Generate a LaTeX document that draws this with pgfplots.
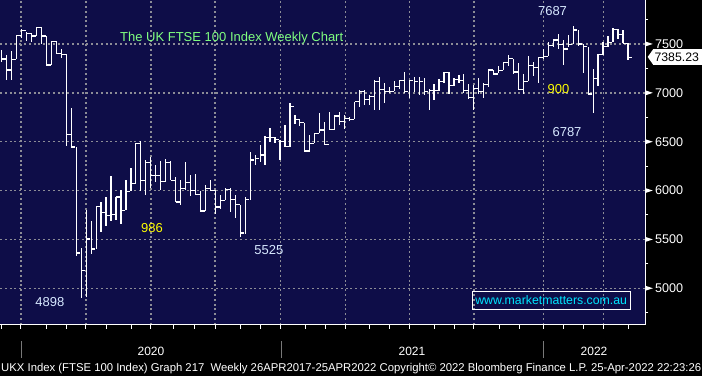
\documentclass[border=0pt]{standalone}
\usepackage{pgfplots}
\usepackage{pgfplotstable}
\usepackage{graphicx}
\pgfplotsset{compat=1.18}
\usepackage{fontspec}
\setmainfont{Liberation Sans}
\definecolor{navy}{RGB}{14,13,72}
\definecolor{gridgray}{RGB}{140,140,150}
\definecolor{titlegreen}{RGB}{128,255,128}
\definecolor{lblue}{RGB}{215,232,255}
\definecolor{webcyan}{RGB}{0,230,255}
\definecolor{yel}{RGB}{255,255,0}
\definecolor{sepgray}{RGB}{120,120,120}

\pgfplotstableread{
k h l c
0 7438 7318 7346
1 7387 7130 7233
2 7428 7130 7342
3 7592 7342 7585
4 7650 7558 7637
5 7626 7534 7609
6 7616 7524 7582
7 7678 7582 7671
8 7671 7500 7582
9 7582 7284 7284
10 7524 7284 7524
11 7534 7404 7404
12 7445 7353 7394
13 7394 6453 6572
14 6849 6440 6446
15 6446 5334 5361
16 5412 4899 5180
17 5802 4913 5505
18 5693 5351 5402
19 5837 5402 5837
20 5881 5573 5779
21 5933 5642 5744
22 6145 5693 5755
23 5933 5700 5933
24 6008 5656 5796
25 6104 5796 5991
26 6226 5996 6072
27 6483 6072 6483
28 6507 5996 6106
29 6312 5952 6288
30 6346 6021 6157
31 6260 6089 6157
32 6301 6003 6096
33 6318 6089 6288
34 6305 6106 6106
35 6140 5883 5883
36 6106 5849 6020
37 6294 6003 6082
38 6157 5942 6003
39 6168 5959 5959
40 5996 5780 5791
41 6055 5791 6020
42 6113 6003 6003
43 6003 5764 5832
44 5952 5815 5901
45 6031 5901 6010
46 6031 5781 5911
47 5952 5722 5856
48 5856 5524 5565
49 5935 5558 5907
50 6398 5905 6313
51 6364 6262 6330
52 6466 6296 6364
53 6558 6262 6544
54 6636 6500 6544
55 6544 6483 6524
56 6517 6313 6500
57 6670 6449 6449
58 6891 6449 6857
59 6772 6680 6728
60 6728 6660 6694
61 6694 6398 6405
62 6568 6398 6483
63 6585 6483 6585
64 6789 6585 6619
65 6704 6466 6473
66 6806 6619 6626
67 6772 6619 6762
68 6806 6670 6704
69 6772 6626 6738
70 6755 6710 6728
71 6908 6728 6908
72 7027 6857 7010
73 7027 6874 6932
74 6976 6874 6966
75 7136 6823 7119
76 7157 6829 7034
77 7103 6897 7017
78 7062 7000 7017
79 7120 7017 7068
80 7130 7044 7130
81 7216 7000 7010
82 7130 6949 7130
83 7164 7010 7120
84 7157 6976 7120
85 7147 6976 7010
86 7044 6822 7020
87 7089 6931 7020
88 7137 7020 7113
89 7216 7103 7209
90 7209 6993 7072
91 7147 7072 7137
92 7181 7096 7130
93 7192 7000 7027
94 7089 6942 6949
95 7079 6829 7044
96 7147 6993 7017
97 7096 6942 7089
98 7240 7062 7233
99 7233 7181 7192
100 7274 7199 7226
101 7314 7230 7307
102 7389 7270 7348
103 7348 7196 7213
104 7304 7034 7034
105 7196 6993 7118
106 7372 7118 7280
107 7314 7169 7257
108 7365 7101 7358
109 7449 7348 7372
110 7517 7372 7483
111 7551 7473 7541
112 7601 7449 7493
113 7541 7280 7449
114 7595 7473 7493
115 7687 7500 7642
116 7642 7483 7500
117 7500 7203 7473
118 7473 6980 6987
119 7247 6790 7145
120 7399 7068 7392
121 7517 7392 7473
122 7584 7473 7517
123 7660 7517 7652
124 7652 7551 7601
125 7642 7507 7507
126 7507 7331 7365
}\ftse

\begin{document}
\begin{tikzpicture}
\fill[black] (0pt,0pt) rectangle (702pt,376pt);
\path[use as bounding box] (0pt,0pt) rectangle (702pt,376pt);
\begin{axis}[
  at={(0pt,51.3pt)}, anchor=south west,
  scale only axis, width=645.3pt, height=324.7pt,
  xmin=-0.34, xmax=129.5, ymin=4627, ymax=7950,
  axis background/.style={fill=navy},
  axis line style={draw=none},
  xtick={0,3.88,9.05,13.08,16.96,21.13,26.16,30.04,34.53,38.89,42.92,48.09,52.11,56.14,61.17,65.19,69.22,73.96,77.99,82.01,87.04,91.07,95.03,100.12,104.14,108.97,113.14,117.02,121.05,126.08},
  xticklabels={},
  extra x ticks={3.88,16.96,30.04,42.92,56.14,69.22,82.01,95.03,108.97,121.05},
  extra x tick labels={},
  extra x tick style={grid=major},
  ytick={5000,5500,6000,6500,7000,7500},
  yticklabels={5000,5500,6000,6500,7000,7500},
  minor ytick={4750,5250,5750,6250,6750,7250,7750},
  ymajorgrids,
  grid style={gridgray, line width=1.5pt, dash pattern=on 2pt off 2.8pt},
  xtick pos=left, ytick pos=right, yticklabel pos=right,
  tick align=outside,
  major tick length=4pt, minor tick length=3pt,
  tick style={white, line width=1pt},
  major y tick style={draw=none},
  yticklabel style={font=\fontsize{12.6}{14}\selectfont, text=white, anchor=west, inner sep=0pt, xshift=5.7pt},
  clip=false,
]
\addplot[draw=none, mark=none, forget plot,
  error bars/.cd, x dir=plus, x explicit, y dir=both, y explicit, error mark=none,
  error bar style={draw=white, line width=1.2pt, solid}]
  table[x=k, y=c, x error plus expr=0.85, y error plus expr=\thisrow{h}-\thisrow{c}, y error minus expr=\thisrow{c}-\thisrow{l}] {\ftse};
\draw[white, line width=1.2pt] (rel axis cs:0,0) -- (rel axis cs:1,0) -- (rel axis cs:1,1);
\pgfplotsinvokeforeach{5000,5500,6000,6500,7000,7500}{
  \fill[white] ([yshift=2.5pt]axis cs:129.5,#1) -- ++(7.5pt,-2.5pt) -- ++(-7.5pt,-2.5pt) -- cycle;
}
\fill[white] ([xshift=2.4pt]axis cs:129.5,7367) -- ++(5.5pt,7.8pt) -- ++(60pt,0pt) -- ++(0pt,-15.6pt) -- ++(-60pt,0pt) -- cycle;
\node[anchor=west, inner sep=0pt, text=black, font=\fontsize{12.3}{14}\selectfont] at ([xshift=9pt]axis cs:129.5,7367) {7385.23};
\end{axis}
% bottom time axis
\foreach \x in {21,281,543} {\draw[sepgray, line width=0.8pt] (\x pt,18pt) -- (\x pt,35pt);}
\node[text=white, font=\fontsize{12}{14}\selectfont] at (151pt,25pt) {2020};
\node[text=white, font=\fontsize{12}{14}\selectfont] at (412pt,25pt) {2021};
\node[text=white, font=\fontsize{12}{14}\selectfont] at (594pt,25pt) {2022};
\node[anchor=base west, inner sep=0pt, text=white] at (1pt,5pt) {\resizebox{700pt}{!}{\fontsize{11}{13}\selectfont UKX Index (FTSE 100 Index) Graph 217\ \ Weekly 26APR2017-25APR2022 Copyright© 2022 Bloomberg Finance L.P. 25-Apr-2022 22:23:26}};
% annotations
\node[text=titlegreen, font=\fontsize{13}{15}\selectfont] at (231.7pt,337.7pt) {The UK FTSE 100 Index Weekly Chart};
\node[text=lblue, font=\fontsize{13}{15}\selectfont] at (49.8pt,74pt) {4898};
\node[text=yel, font=\fontsize{13}{15}\selectfont] at (152pt,147.7pt) {986};
\node[text=lblue, font=\fontsize{13}{15}\selectfont] at (268.8pt,126pt) {5525};
\node[text=lblue, font=\fontsize{13}{15}\selectfont] at (552.5pt,365pt) {7687};
\node[text=yel, font=\fontsize{13}{15}\selectfont] at (558.5pt,286.7pt) {900};
\node[text=lblue, font=\fontsize{13}{15}\selectfont] at (567pt,243.7pt) {6787};
\draw[white, line width=1pt] (472.3pt,66.7pt) rectangle (630pt,84.3pt);
\node[text=webcyan, font=\fontsize{12.3}{14}\selectfont] at (551.2pt,75.5pt) {www.marketmatters.com.au};
\end{tikzpicture}
\end{document}
